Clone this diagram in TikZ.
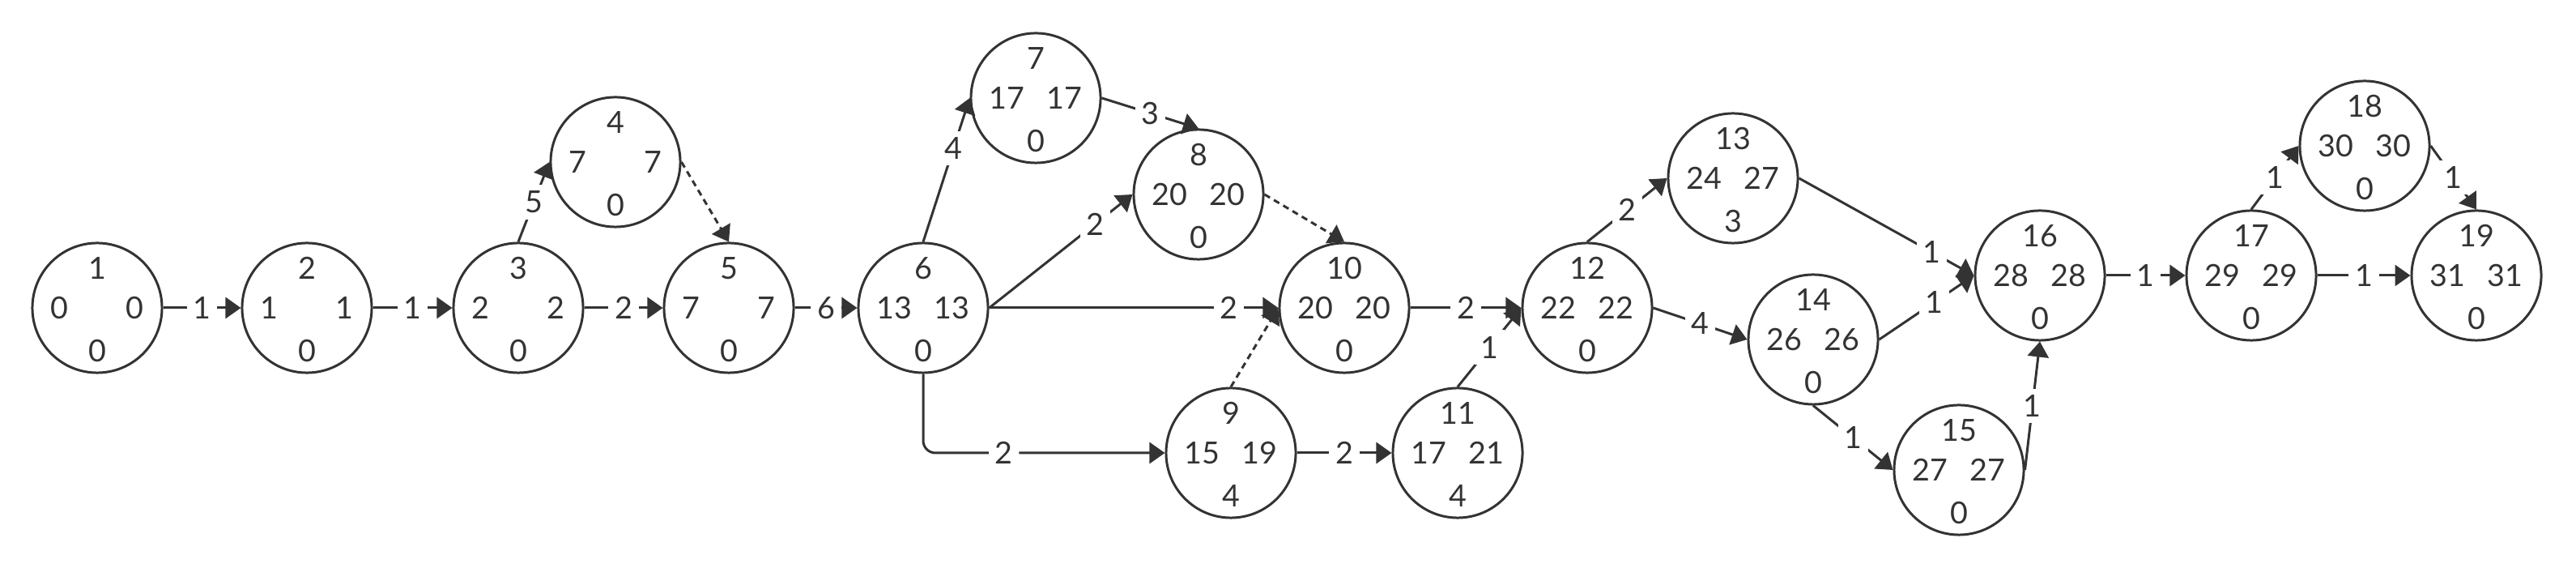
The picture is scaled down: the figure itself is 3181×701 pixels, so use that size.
\documentclass[tikz,border=0pt]{standalone}
\usepackage{fontspec}
\setmainfont{Lato}
\usetikzlibrary{arrows.meta}
\definecolor{inkgrey}{HTML}{333333}
\newcommand{\evfont}{\fontsize{10.7}{12}\selectfont}
\tikzset{event/.style={circle,draw=inkgrey,line width=.85pt,minimum size=1.6cm,inner sep=0pt},num/.style={inner sep=0pt,font=\evfont,text=inkgrey},activity/.style={-{Triangle[length=5.4pt,width=7.4pt]},line width=.85pt,draw=inkgrey},dummy/.style={activity,dash pattern=on 2.2pt off 1.6pt},dur/.style={fill=white,inner sep=2.2pt,font=\evfont,text=inkgrey}}
\newcommand{\event}[6]{%
\node[event] (#1) at (#2) {};
\node[num] (#1t) at ([shift={(0,-49)}]#1.center) {#3};
\node[num,anchor=west] (#1l) at ([shift={(-58,0)}]#1.center) {#4};
\node[num,anchor=east] (#1r) at ([shift={(58,0)}]#1.center) {#5};
\node[num] (#1b) at ([shift={(0,53)}]#1.center) {#6};}

\begin{document}
\begin{tikzpicture}[x=.01cm,y=-.01cm]
\useasboundingbox (0,0) rectangle (3181,701);
\event{n1}{120,380}{1}{0}{0}{0}
\event{n2}{379,380}{2}{1}{1}{0}
\event{n3}{640,380}{3}{2}{2}{0}
\event{n4}{760,200}{4}{7}{7}{0}
\event{n5}{900,380}{5}{7}{7}{0}
\event{n6}{1140,380}{6}{13}{13}{0}
\event{n7}{1279,121}{7}{17}{17}{0}
\event{n8}{1480,240}{8}{20}{20}{0}
\event{n9}{1520,559}{9}{15}{19}{4}
\event{n10}{1660,380}{10}{20}{20}{0}
\event{n11}{1800,559}{11}{17}{21}{4}
\event{n12}{1960,380}{12}{22}{22}{0}
\event{n13}{2140,220}{13}{24}{27}{3}
\event{n14}{2239,419}{14}{26}{26}{0}
\event{n15}{2419,580}{15}{27}{27}{0}
\event{n16}{2519,340}{16}{28}{28}{0}
\event{n17}{2780,340}{17}{29}{29}{0}
\event{n18}{2920,180}{18}{30}{30}{0}
\event{n19}{3058,340}{19}{31}{31}{0}
\draw[activity] (n1)--node[dur]{1}(n2);
\draw[activity] (n2)--node[dur]{1}(n3);
\draw[activity] (n3)--node[dur]{2}(n5);
\draw[activity] (n3.north)--node[dur]{5}(n4.west);
\draw[dummy] (n4.east)--(n5.north);
\draw[activity] (n5)--node[dur]{6}(n6);
\draw[activity] (n6.north)--node[dur,pos=.65]{4}(n7.west);
\draw[activity] (n6.east)--node[dur,pos=.74]{2}(n8.west);
\draw[activity] (n6.east)--node[dur,pos=.83]{2}(n10.west);
\draw[activity,rounded corners=4.3pt] (n6.south)|-node[dur,pos=.667]{2}(n9.west);
\draw[activity] (n7.east)--node[dur]{3}(n8.north);
\draw[dummy] (n8.east)--(n10.north);
\draw[dummy] (n9.north)--(n10.west);
\draw[activity] (n9)--node[dur]{2}(n11);
\draw[activity] (n10)--node[dur]{2}(n12);
\draw[activity] (n11.north)--node[dur]{1}(n12.west);
\draw[activity] (n12.north)--node[dur]{2}(n13.west);
\draw[activity] (n12.east)--node[dur]{4}(n14.west);
\draw[activity] (n13.east)--node[dur,pos=.76]{1}(n16.west);
\draw[activity] (n14.east)--node[dur,pos=.58]{1}(n16.west);
\draw[activity] (n14.south)--node[dur]{1}(n15.west);
\draw[activity] (n15.east)--node[dur]{1}(n16.south);
\draw[activity] (n16)--node[dur]{1}(n17);
\draw[activity] (n17.north)--node[dur]{1}(n18.west);
\draw[activity] (n17)--node[dur]{1}(n19);
\draw[activity] (n18.east)--node[dur]{1}(n19.north);
\end{tikzpicture}
\end{document}
